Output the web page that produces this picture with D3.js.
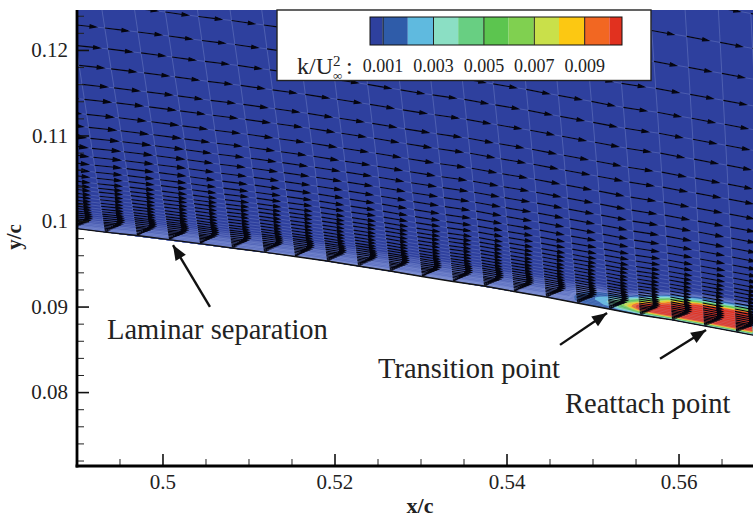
<!DOCTYPE html>
<html>
<head>
<meta charset="utf-8">
<script src="https://cdn.jsdelivr.net/npm/d3@7"></script>
<style>
  html, body { margin: 0; padding: 0; background: #fff; }
  svg { display: block; }
  text { font-family: "Liberation Serif", serif; fill: #222; }
</style>
</head>
<body>
<div id="container"></div>
<script>
/* axis ticks */
const xMajor = [0.5, 0.52, 0.54, 0.56],
xMajorLabels = ["0.5", "0.52", "0.54", "0.56"],
xMinor = [0.495, 0.505, 0.51, 0.515, 0.525, 0.53, 0.535, 0.545, 0.55, 0.555, 0.565],
yMajor = [0.08, 0.09, 0.1, 0.11, 0.12],
yMajorLabels = ["0.08", "0.09", "0.1", "0.11", "0.12"],
yMinor = [0.072, 0.074, 0.076, 0.078, 0.082, 0.084, 0.086, 0.088, 0.092, 0.094, 0.096, 0.098,
	0.102, 0.104, 0.106, 0.108, 0.112, 0.114, 0.116, 0.118, 0.122, 0.124];

/* surface of the airfoil, one value per mesh station */
const stationX = [0.48959, 0.49331, 0.49703, 0.50076, 0.50436, 0.50808, 0.5118, 0.51541, 0.51913, 0.52273, 0.52645, 0.53017,
	0.53378, 0.53738, 0.54087, 0.54459, 0.5482, 0.55192, 0.55552, 0.55924, 0.56297, 0.56669, 0.57029],
wallY = [0.09917, 0.0987, 0.0983, 0.09783, 0.09736, 0.09684, 0.09637, 0.09585, 0.09532, 0.09474, 0.09415, 0.09351,
	0.09293, 0.0924, 0.09176, 0.09112, 0.09042, 0.08972, 0.08902, 0.08844, 0.08774, 0.08704, 0.08634],
/* lean of the mesh lines off the vertical */
lean = [0.16, 0.155, 0.155, 0.15, 0.15, 0.145, 0.14, 0.135, 0.13, 0.125, 0.12, 0.115,
	0.11, 0.105, 0.1, 0.095, 0.09, 0.085, 0.08, 0.07, 0.06, 0.055, 0.05];

/* height of each mesh row above the wall */
const rowDist = [0.03792, 0.03384, 0.03022, 0.02707, 0.02427, 0.02182, 0.01949, 0.01727, 0.01552, 0.01377, 0.01225, 0.01097,
	0.0098, 0.00875, 0.00782, 0.007, 0.0063, 0.00566, 0.00513, 0.00467, 0.0042, 0.00379, 0.00338, 0.00303,
	0.00268, 0.00239, 0.0021, 0.00187, 0.00163, 0.0014, 0.00117, 0.00099, 0.00082, 0.00064, 0.00047, 0.00029, 0.00014],
/* velocity by row, ahead of and behind the separation point */
speedFore = [0.94, 0.96, 0.98, 1, 1.02, 1.04, 1.07, 1.09, 1.13, 1.15, 1.17, 1.2,
	1.2, 1.17, 1.13, 1.09, 1.06, 1.03, 1, 0.98, 0.96, 0.94, 0.92, 0.9,
	0.89, 0.88, 0.88, 0.89, 0.9, 0.88, 0.8, 0.7, 0.58, 0.44, 0.3, 0.18, 0.09],
speedAft = [0.94, 0.96, 0.98, 1, 1, 1.01, 1.02, 1.03, 1.04, 1.05, 1.05, 1.05,
	1.05, 1.04, 1.03, 1.02, 1, 0.98, 0.95, 0.92, 0.9, 0.88, 0.87, 0.86,
	0.85, 0.85, 0.86, 0.87, 0.87, 0.85, 0.76, 0.65, 0.52, 0.4, 0.28, 0.17, 0.08],
foreCount = 4;

/* k field (x 1e-3): one row per height above the wall, one column per kX */
const kX = [0.4901, 0.5159, 0.5333, 0.5438, 0.5473, 0.5490, 0.5508, 0.5519, 0.5531, 0.5543, 0.5554, 0.5566, 0.5589, 0.5624, 0.5686],
kDist = [0, 0.00012, 0.00025, 0.0004, 0.0006, 0.0008, 0.00105, 0.0013, 0.0016, 0.0019, 0.0022, 0.0025, 0.0029, 0.0033, 0.0038],
kField = [
	[.7, .85, .9, .9, .95, .9, .9, .9, .9, 1, 1, 1, 1.2, 1.2, 1.2],
	[.7, .85, .9, .9, .95, 1, 1.1, 1.3, 1.8, 2, 2.5, 3, 3.5, 3.5, 3.5],
	[.65, .8, .87, .87, .92, 1.1, 1.4, 1.8, 3, 3.5, 4.5, 5.5, 6.5, 6.5, 6.5],
	[.6, .75, .82, .82, .88, 1.2, 1.7, 2.4, 4, 5, 7, 8.5, 9.5, 9.5, 9.5],
	[.5, .68, .75, .76, .82, 1.3, 1.9, 2.9, 5, 7, 9.5, 10.5, 11, 11, 11],
	[.4, .58, .66, .68, .74, 1.4, 2.2, 3.2, 5.5, 8.5, 10.5, 11, 11, 11, 11],
	[.28, .48, .56, .58, .65, 1.3, 2.2, 3, 5.2, 8, 10.5, 11, 11, 11, 11],
	[.16, .38, .46, .48, .54, 1.1, 1.9, 2.4, 4, 6, 9.5, 10.5, 11, 11, 11],
	[.06, .25, .34, .36, .4, .8, 1.3, 1.6, 2.2, 3.5, 6.5, 9, 10.5, 11, 11],
	[0, .12, .22, .25, .27, .5, .8, .8, 1, 1.5, 3.5, 6, 9.5, 10.5, 11],
	[0, .03, .1, .13, .14, .3, .4, .3, .4, .5, 1.3, 2.5, 8, 10.5, 11],
	[0, 0, .03, .04, .04, .1, .2, .1, .1, .2, .4, 1, 4, 9, 10.5],
	[0, 0, 0, 0, 0, 0, 0, 0, 0, 0, .1, .2, 1, 3, 5.5],
	[0, 0, 0, 0, 0, 0, 0, 0, 0, 0, 0, 0, .1, .8, 1.5],
	[0, 0, 0, 0, 0, 0, 0, 0, 0, 0, 0, 0, 0, 0, .2]
];

/* levels of the field, with the bright stripes next to the wall */
const stripeLevels = [.1, .2, .3, .4, .5, .6, .7, .8, .9],
stripeColors = ["#3a4ca6", "#4355ad", "#3f52ab", "#5265b8", "#4c60b5", "#6073c2", "#596dbf", "#6f82cb", "#6579c6"];

/* legend */
const legendEdges = [0.5, 1, 2, 3, 4, 5, 6, 7, 8, 9, 10, 10.5],
legendColors = ["#2e409e", "#2f5ca9", "#5fbadf", "#8bdfc4", "#68cf82", "#5cc54f", "#80d050", "#c9e04a", "#fcc812", "#f26722", "#e1311f"],
legendTicks = [1, 3, 5, 7, 9],
legendLabels = ["0.001", "0.003", "0.005", "0.007", "0.009"];

/* callouts */
const noteLabels = ["Laminar separation", "Transition point", "Reattach point"],
noteTextX = [0.49355, 0.52506, 0.5468],
noteTextY = [0.08622, 0.08167, 0.07758],
noteTailX = [0.50552, 0.54622, 0.55785],
noteTailY = [0.08995, 0.08552, 0.08389],
noteTipX = [0.50122, 0.55169, 0.5632],
noteTipY = [0.09719, 0.08925, 0.08727];

const width = 753, height = 519;

/* Cadre du graphe */
const left = 77, right = 753, top_ = 10, bottom = 466;

const x = d3.scaleLinear().domain([0.49006, 0.56866]).range([left, right]);
const y = d3.scaleLinear().domain([0.07136, 0.12467]).range([bottom, top_]);

/* speed -> arrow length, k -> legend position */
const arrowLength = d3.scaleLinear().domain([0, 1]).range([0, 23]);
const legendX = d3.scaleLinear().domain([0.5, 10.5]).range([370, 622]);

const svg = d3.select("#container").append("svg")
	.attr("width", width)
	.attr("height", height);

svg.append("defs").append("clipPath")
	.attr("id", "plot")
	.append("rect")
	.attr("x", left)
	.attr("y", top_)
	.attr("width", right - left)
	.attr("height", bottom - top_);

const field = svg.append("g").attr("clip-path", "url(#plot)");

/* mesh point: row height above station i */
function meshPoint(i, dist) {
	const py = y(wallY[i] + dist);
	return [x(stationX[i]) - lean[i] * (y(wallY[i]) - py), py];
}

/* Fond bleu au dessus du profil */
field.append("path")
	.attr("d", d3.area()
		.x(function(d){return x(d)})
		.y0(function(d, i){return y(wallY[i])})
		.y1(top_)(stationX))
	.attr("fill", legendColors[0]);

/* Contours de k */
const wallAt = d3.scaleLinear().domain(stationX).range(wallY);
const leanAt = d3.scaleLinear().domain(stationX).range(lean);
const colToX = d3.scaleLinear().domain(d3.range(kX.length)).range(kX).clamp(true);
const rowToDist = d3.scaleLinear().domain(d3.range(kDist.length)).range(kDist).clamp(true);

const contourPath = d3.geoPath(d3.geoTransform({
	point: function(cx, cy) {
		const sx = colToX(cx - 0.5), dist = rowToDist(cy - 0.5);
		const wy = wallAt(sx), py = y(wy + dist);
		this.stream.point(x(sx) - leanAt(sx) * (y(wy) - py), py);
	}
}));

const levels = stripeLevels.concat(legendEdges.slice(1, -1));
const levelColors = stripeColors.concat(legendColors.slice(1));

field.selectAll("path.k")
	.data(d3.contours()
		.size([kX.length, kDist.length])
		.thresholds(levels)(kField.flat()))
	.enter().append("path")
		.attr("class", "k")
		.attr("d", contourPath)
		.attr("fill", function(d, i){return levelColors[i]});

/* Maillage */
const meshLine = d3.line();
const meshColor = "#a9b6e6";

field.selectAll("path.row")
	.data(rowDist)
	.enter().append("path")
		.attr("class", "row")
		.attr("d", function(d){
			return meshLine(stationX.map(function(s, i){return meshPoint(i, d)}));
		})
		.attr("fill", "none")
		.attr("stroke", meshColor)
		.attr("stroke-opacity", 0.35)
		.attr("stroke-width", 0.7);

field.selectAll("path.col")
	.data(stationX)
	.enter().append("path")
		.attr("class", "col")
		.attr("d", function(s, i){
			return meshLine(rowDist.map(function(d){return meshPoint(i, d)}).concat([[x(s), y(wallY[i])]]));
		})
		.attr("fill", "none")
		.attr("stroke", meshColor)
		.attr("stroke-opacity", 0.38)
		.attr("stroke-width", 0.7);

/* Vecteurs vitesse */
const arrows = [];
stationX.forEach(function(s, i){
	const j = Math.min(i, stationX.length - 2);
	const slope = (y(wallY[j + 1]) - y(wallY[j])) / (x(stationX[j + 1]) - x(stationX[j]));
	const speed = i < foreCount ? speedFore : speedAft;
	rowDist.forEach(function(d, r){
		arrows.push({foot: meshPoint(i, d), slope: slope, length: arrowLength(speed[r])});
	});
});

field.selectAll("path.arrow")
	.data(arrows)
	.enter().append("path")
		.attr("class", "arrow")
		.attr("d", function(d){
			const c = 1 / Math.sqrt(1 + d.slope * d.slope), ux = c, uy = d.slope * c;
			const tx = d.foot[0] + ux * d.length, ty = d.foot[1] + uy * d.length;
			const hl = d.length * 0.26, hw = d.length * 0.07;
			const bx = tx - ux * hl, by = ty - uy * hl;
			return "M" + d.foot[0] + "," + d.foot[1] + "L" + bx + "," + by
				+ "L" + (bx - uy * hw) + "," + (by + ux * hw)
				+ "L" + tx + "," + ty
				+ "L" + (bx + uy * hw) + "," + (by - ux * hw)
				+ "L" + bx + "," + by;
		})
		.attr("fill", "#05050f")
		.attr("stroke", "#05050f")
		.attr("stroke-width", 1.15);

/* Paroi */
field.append("path")
	.attr("d", d3.line()
		.x(function(d){return x(d)})
		.y(function(d, i){return y(wallY[i])})(stationX))
	.attr("fill", "none")
	.attr("stroke", "#111")
	.attr("stroke-width", 1.4);

/* Axes */
const xAxis = svg.append("g")
	.attr("transform", "translate(0," + bottom + ")")
	.call(d3.axisBottom(x).tickValues(xMajor).tickSize(-12).tickPadding(8)
		.tickFormat(function(d, i){return xMajorLabels[i]}));
const xAxisMinor = svg.append("g")
	.attr("transform", "translate(0," + bottom + ")")
	.call(d3.axisBottom(x).tickValues(xMinor).tickSize(-7).tickFormat(""));
const yAxis = svg.append("g")
	.attr("transform", "translate(" + left + ",0)")
	.call(d3.axisLeft(y).tickValues(yMajor).tickSize(-12).tickPadding(9)
		.tickFormat(function(d, i){return yMajorLabels[i]}));
const yAxisMinor = svg.append("g")
	.attr("transform", "translate(" + left + ",0)")
	.call(d3.axisLeft(y).tickValues(yMinor).tickSize(-7).tickFormat(""));

[xAxis, yAxis].forEach(function(a){
	a.selectAll("line").attr("stroke", "#111").attr("stroke-width", 1.6);
	a.selectAll("text").style("font-size", "21px").style("font-family", "Liberation Serif").attr("fill", "#222");
});
[xAxisMinor, yAxisMinor].forEach(function(a){
	a.selectAll("line").attr("stroke", "#222").attr("stroke-width", 1);
});
[xAxis, xAxisMinor, yAxis, yAxisMinor].forEach(function(a){
	a.select(".domain").attr("stroke", "none");
});

svg.append("line")
	.attr("x1", left).attr("x2", left)
	.attr("y1", top_).attr("y2", bottom + 1.5)
	.attr("stroke", "#000").attr("stroke-width", 2.8);
svg.append("line")
	.attr("x1", left - 1.4).attr("x2", right)
	.attr("y1", bottom).attr("y2", bottom)
	.attr("stroke", "#000").attr("stroke-width", 2.8);

svg.append("text")
	.attr("x", 420).attr("y", 513)
	.attr("text-anchor", "middle")
	.style("font-size", "22px").style("font-weight", "bold")
	.text("x/c");
svg.append("text")
	.attr("transform", "translate(21,237) rotate(-90)")
	.attr("text-anchor", "middle")
	.style("font-size", "21px").style("font-weight", "bold")
	.text("y/c");

/* Légende */
const legend = svg.append("g");

legend.append("rect")
	.attr("x", 277).attr("y", 10)
	.attr("width", 374).attr("height", 70.5)
	.attr("fill", "#fff")
	.attr("stroke", "#222")
	.attr("stroke-width", 1.4);

legend.selectAll("rect.cell")
	.data(legendColors)
	.enter().append("rect")
		.attr("class", "cell")
		.attr("x", function(d, i){return legendX(legendEdges[i])})
		.attr("y", 17)
		.attr("width", function(d, i){return legendX(legendEdges[i + 1]) - legendX(legendEdges[i])})
		.attr("height", 28)
		.attr("fill", function(d){return d});

legend.append("rect")
	.attr("x", legendX(0.5)).attr("y", 17)
	.attr("width", legendX(10.5) - legendX(0.5)).attr("height", 28)
	.attr("fill", "none")
	.attr("stroke", "#111");

const legendAxis = legend.append("g")
	.attr("transform", "translate(0,45)")
	.call(d3.axisBottom(legendX).tickValues(legendTicks).tickSize(-28).tickPadding(14)
		.tickFormat(function(d, i){return legendLabels[i]}));
legendAxis.select(".domain").attr("stroke", "none");
legendAxis.selectAll("line").attr("stroke", "#222").attr("stroke-width", 1);
legendAxis.selectAll("text").style("font-size", "18px").style("font-family", "Liberation Serif").attr("fill", "#222");

legend.append("text").attr("x", 297).attr("y", 74).style("font-size", "24px").text("k/U");
legend.append("text").attr("x", 333).attr("y", 66).style("font-size", "15px").text("2");
legend.append("text").attr("x", 333).attr("y", 80).style("font-size", "13px").text("∞");
legend.append("text").attr("x", 346).attr("y", 74).style("font-size", "24px").text(":");

/* Annotations */
svg.selectAll("text.note")
	.data(noteLabels)
	.enter().append("text")
		.attr("class", "note")
		.attr("x", function(d, i){return x(noteTextX[i])})
		.attr("y", function(d, i){return y(noteTextY[i])})
		.style("font-size", "28.5px")
		.text(function(d){return d});

svg.selectAll("line.note")
	.data(noteLabels)
	.enter().append("line")
		.attr("class", "note")
		.attr("x1", function(d, i){return x(noteTailX[i])})
		.attr("y1", function(d, i){return y(noteTailY[i])})
		.attr("x2", function(d, i){return x(noteTipX[i])})
		.attr("y2", function(d, i){return y(noteTipY[i])})
		.attr("stroke", "#111")
		.attr("stroke-width", 2.4);

svg.selectAll("path.note")
	.data(noteLabels)
	.enter().append("path")
		.attr("class", "note")
		.attr("d", function(d, i){
			const tx = x(noteTipX[i]), ty = y(noteTipY[i]);
			const a = Math.atan2(y(noteTailY[i]) - ty, x(noteTailX[i]) - tx);
			const ux = Math.cos(a), uy = Math.sin(a);
			const bx = tx + ux * 15, by = ty + uy * 15;
			return "M" + tx + "," + ty
				+ "L" + (bx - uy * 6) + "," + (by + ux * 6)
				+ "L" + (bx + uy * 6) + "," + (by - ux * 6) + "Z";
		})
		.attr("fill", "#111");
</script>
</body>
</html>
